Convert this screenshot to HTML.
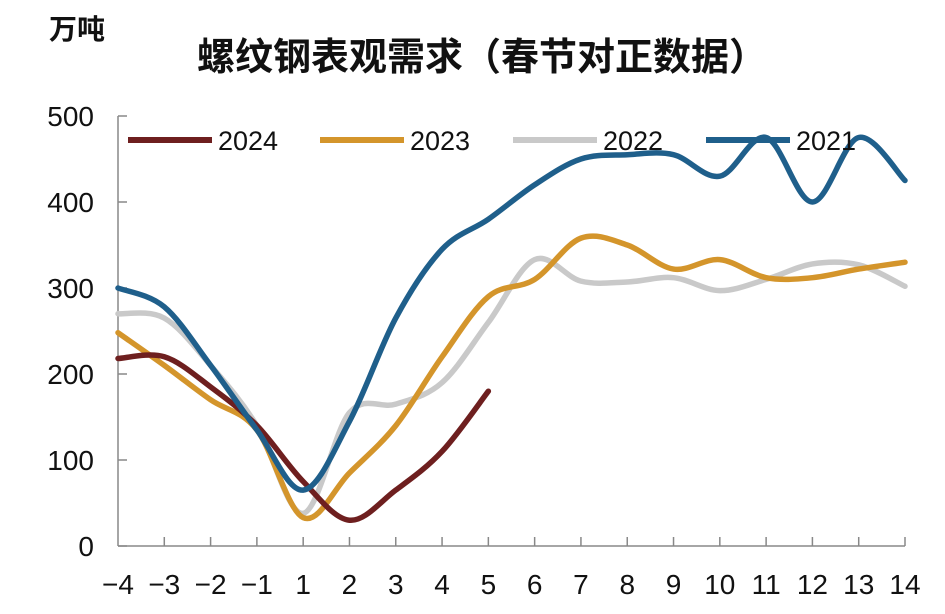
<!DOCTYPE html>
<html><head><meta charset="utf-8"><style>
body{margin:0;background:#fff;width:945px;height:609px;overflow:hidden}
svg text{font-family:"Liberation Sans","Noto Sans CJK SC",sans-serif}
</style></head><body>
<svg id="c" width="945" height="609">
<text x="49" y="39" font-size="28" font-weight="bold" fill="#111" style="font-family:'Noto Sans CJK SC',sans-serif">万吨</text>
<text x="482" y="70" font-size="38" font-weight="bold" text-anchor="middle" fill="#111" style="font-family:'Noto Sans CJK SC',sans-serif">螺纹钢表观需求（春节对正数据）</text>
<g id="axes"></g><g id="series"></g><g id="legend"></g>
</svg>
<script>
const categories=["−4","−3","−2","−1","1","2","3","4","5","6","7","8","9","10","11","12","13","14"];
const yTicks=[0,100,200,300,400,500];
const seriesNames=["2024","2023","2022","2021"];
const s2024=[218,220,185,140,75,30,65,110,180];
const s2023=[248,210,170,135,33,85,140,220,290,310,358,350,322,333,312,312,322,330];
const s2022=[270,265,210,140,38,155,165,190,260,333,308,307,312,297,310,328,327,302];
const s2021=[300,278,210,135,65,145,265,345,380,420,450,455,455,430,475,400,475,425];
const colors=["#6e1f1f","#d4952b","#c9c9c9","#1f5f8b"];
const NS="http://www.w3.org/2000/svg";
const X0=118,X1=905,Y0=546,Y1=116;
const xs=i=>X0+i*(X1-X0)/(categories.length-1);
const ys=v=>Y0-v*(Y0-Y1)/500;
function mk(t,a,p){const e=document.createElementNS(NS,t);for(const k in a)e.setAttribute(k,a[k]);p.appendChild(e);return e;}
const ax=document.getElementById('axes');
let l=mk('line',{x1:X0,y1:Y1,x2:X0,y2:Y0,stroke:'#888','stroke-width':1.5},ax);


l=mk('line',{x1:X0,y1:Y0,x2:X1,y2:Y0,stroke:'#888','stroke-width':1.5},ax);


yTicks.forEach(v=>{
 mk('line',{x1:X0,y1:ys(v),x2:X0+9,y2:ys(v),stroke:'#888','stroke-width':1.5},ax);
 const t=mk('text',{x:94,y:ys(v)+10,'font-size':28,'text-anchor':'end',fill:'#111'},ax);t.textContent=v;
 
 
});
categories.forEach((c,i)=>{
 if(i>0)mk('line',{x1:xs(i),y1:Y0,x2:xs(i),y2:Y0-9,stroke:'#888','stroke-width':1.5},ax);
 const t=mk('text',{x:xs(i),y:594,'font-size':28,'text-anchor':'middle',fill:'#111'},ax);t.textContent=c;
 
 
});
function path(d){const p=d.map((v,i)=>[xs(i),ys(v)]);let s=`M${p[0][0]},${p[0][1]}`;
 for(let i=0;i<p.length-1;i++){const a=p[i-1]||p[i],b=p[i],c=p[i+1],e=p[i+2]||c;
 s+=` C${b[0]+(c[0]-a[0])/6},${b[1]+(c[1]-a[1])/6} ${c[0]-(e[0]-b[0])/6},${c[1]-(e[1]-b[1])/6} ${c[0]},${c[1]}`;}return s;}
const sg=document.getElementById('series');
[s2022,s2023,s2024,s2021].forEach(d=>{
 const idx=[s2024,s2023,s2022,s2021].indexOf(d);
 const p=mk('path',{d:path(d),fill:'none',stroke:colors[idx],'stroke-width':5.5,'stroke-linecap':'round'},sg);
 
 
});
const lg=document.getElementById('legend');
const lx=[128,320,513,706];
seriesNames.forEach((n,i)=>{
 const g=mk('g',{},lg);
 
 
 mk('line',{x1:lx[i],y1:140,x2:lx[i]+84,y2:140,stroke:colors[i],'stroke-width':6},g);
 const t=mk('text',{x:lx[i]+90,y:150,'font-size':27,fill:'#111'},g);t.textContent=n;
});
</script>
</body></html>
